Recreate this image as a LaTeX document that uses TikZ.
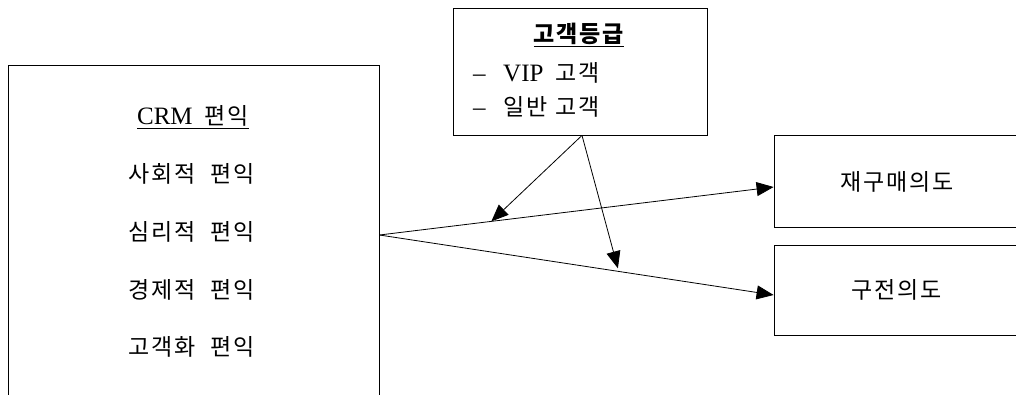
\documentclass[tikz,border=0pt]{standalone}
\usepackage{fontspec}
\setmainfont{Liberation Serif}
\newfontfamily\kr{Noto Sans CJK KR}[LetterSpace=8]
\usetikzlibrary{arrows.meta,calc}
\newcommand\latx[1]{{\fontsize{25}{28}\selectfont #1}}
\newcommand\hk[1]{{\kr\fontsize{23}{26}\selectfont #1}}
\newcommand\wgap{\hspace{15pt}}
\begin{document}
\begin{tikzpicture}[x=1pt,y=-1pt,
  box/.style={draw, line width=0.8pt, inner sep=0},
  txt/.style={inner sep=0},
  arr/.style={line width=0.8pt, -{Triangle[length=17pt,width=14pt]}}]
\useasboundingbox (0,0) rectangle (1016,394);
\clip (0,0) rectangle (1016,394);
% boxes
\node[box, minimum width=371, minimum height=360] (crm) at (193.5,245) {};
\node[box, minimum width=254, minimum height=127] (grade) at (580,71.5) {};
\node[box, minimum width=260, minimum height=92] (rebuy) at (904,181) {};
\node[box, minimum width=260, minimum height=90] (wom) at (904,290) {};
% texts
\node[txt] (crmt) at (193,117) {\underline{\latx{CRM}\hspace{12pt}\hk{편익}}};
\node[txt] (b1) at (192,174) {\hk{사회적\wgap 편익}};
\node[txt] (b2) at (192,232) {\hk{심리적\wgap 편익}};
\node[txt] (b3) at (192,290) {\hk{경제적\wgap 편익}};
\node[txt] (b4) at (192,347) {\hk{고객화\wgap 편익}};
\node[txt] (gt) at (579,35) {\underline{\hk{\bfseries 고객등급}}};
\node[txt, anchor=west] (g1) at (473,73) {\makebox[30pt][l]{\latx{–}}\makebox[52pt][l]{\latx{VIP}}\hk{고객}};
\node[txt, anchor=west] (g2) at (473,107) {\makebox[30pt][l]{\latx{–}}\makebox[52pt][l]{\hk{일반}}\hk{고객}};
\node[txt] (rt) at (897,182) {\hk{재구매의도}};
\node[txt] (wt) at (897,290) {\hk{구전의도}};
% connectors
\coordinate (src) at (crm.east |- 0,235);
\coordinate (e1) at (rebuy.west |- 0,187);
\coordinate (e2) at (wom.west |- 0,295);
\coordinate (gs) at ([xshift=2pt]grade.south);
\draw[arr] (src) -- (e1);
\draw[arr] (src) -- (e2);
\draw[arr] (gs) -- ($(src)!0.284!(e1)$);
\draw[arr] (gs) -- ($(src)!0.605!(e2)+(0,-3)$);
\end{tikzpicture}
\end{document}
